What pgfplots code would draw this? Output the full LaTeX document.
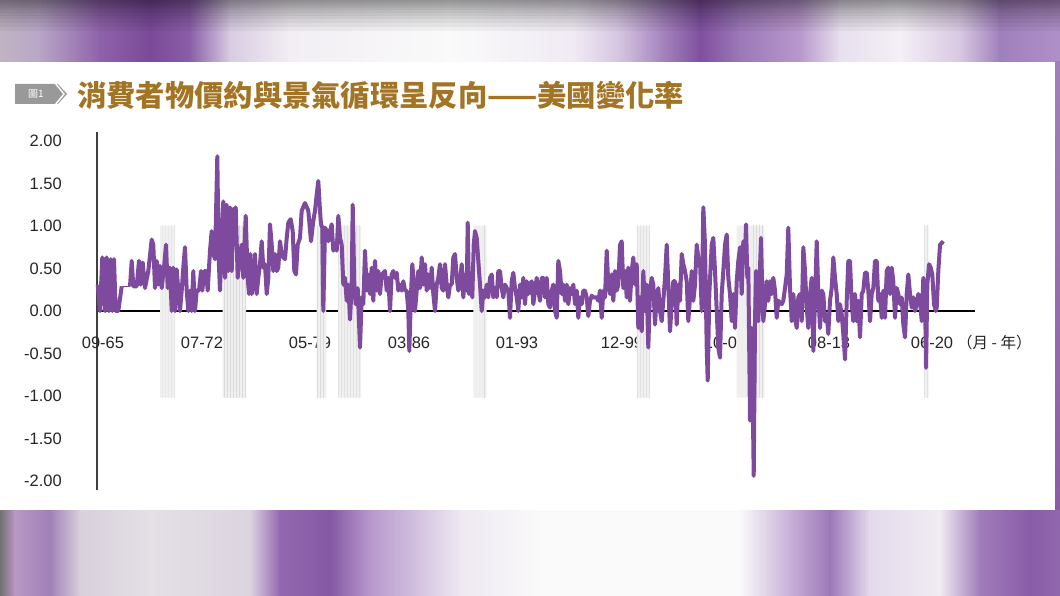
\documentclass[border=0pt]{standalone}
\usepackage{fontspec}
\setmainfont{Liberation Sans}
\newfontfamily\cjk{Noto Sans CJK TC}
\usepackage{pgfplots}
\pgfplotsset{compat=1.18}
\usetikzlibrary{patterns}
\definecolor{cpi}{HTML}{7D4A9E}
\definecolor{gold}{HTML}{A27424}
% top band colours
\definecolor{t0}{HTML}{C0B4C4}\definecolor{t1}{HTML}{B8A6C6}\definecolor{t2}{HTML}{8E62AA}
\definecolor{t3}{HTML}{7A4A98}\definecolor{t4}{HTML}{8A5EA8}\definecolor{t5}{HTML}{D8CCE2}
\definecolor{t6}{HTML}{F2EEF4}\definecolor{t7}{HTML}{FAFAFA}\definecolor{t8}{HTML}{F0EAF4}
\definecolor{t9}{HTML}{D4C4E0}\definecolor{t10}{HTML}{A888C0}\definecolor{t11}{HTML}{7E509E}
\definecolor{t12}{HTML}{9C78B8}\definecolor{t13}{HTML}{B898CC}\definecolor{t14}{HTML}{E8E0EE}
\definecolor{t15}{HTML}{F4F0F6}\definecolor{t16}{HTML}{D8C8E2}\definecolor{t17}{HTML}{A080BC}
\definecolor{t18}{HTML}{B090C8}
% bottom band colours
\definecolor{b0}{HTML}{707070}\definecolor{b1}{HTML}{B898C4}\definecolor{b2}{HTML}{A080B8}
\definecolor{b3}{HTML}{D8D0DC}\definecolor{b4}{HTML}{E4E0E6}\definecolor{b5}{HTML}{DCD4E0}
\definecolor{b6}{HTML}{9468B0}\definecolor{b7}{HTML}{8458A4}\definecolor{b8}{HTML}{B898CC}
\definecolor{b9}{HTML}{D4C4E0}\definecolor{b10}{HTML}{EEE8F2}\definecolor{b11}{HTML}{FAFAFA}
\definecolor{b12}{HTML}{FAFAFA}\definecolor{b13}{HTML}{C8B0D8}\definecolor{b14}{HTML}{9C78B8}
\definecolor{b15}{HTML}{E4DAEC}\definecolor{b16}{HTML}{F0ECF2}\definecolor{b17}{HTML}{A07CBA}
\definecolor{b18}{HTML}{8A5CA8}\definecolor{b19}{HTML}{9068AC}
\begin{document}
\begin{tikzpicture}[x=1bp,y=1bp]
\useasboundingbox (0,0) rectangle (1060,596);
% ---- blurred background, top band
\foreach \a/\b/\ca/\cb in {0/40/t0/t1,40/100/t1/t2,100/150/t2/t3,150/190/t3/t4,190/230/t4/t5,230/290/t5/t6,290/450/t6/t7,450/575/t7/t8,575/620/t8/t9,620/660/t9/t10,660/700/t10/t11,700/740/t11/t12,740/800/t12/t13,800/840/t13/t14,840/900/t14/t15,900/960/t15/t16,960/1000/t16/t17,1000/1060/t17/t18}
  {\shade[left color=\ca,right color=\cb] (\a-0.5,533) rectangle (\b+0.5,596);}
\foreach \h in {594,592,590,588,586,583,580,577,573,569,565}
  {\fill[black,opacity=0.045] (0,\h) rectangle (1060,596);}
% ---- bottom band
\foreach \a/\b/\ca/\cb in {0/15/b0/b1,15/50/b1/b2,50/80/b2/b3,80/150/b3/b4,150/250/b4/b5,250/280/b5/b6,280/330/b6/b7,330/370/b7/b8,370/420/b8/b9,420/460/b9/b10,460/540/b10/b11,540/740/b11/b12,740/790/b12/b13,790/830/b13/b14,830/870/b14/b15,870/940/b15/b16,940/980/b16/b17,980/1030/b17/b18,1030/1060/b18/b19}
  {\shade[left color=\ca,right color=\cb] (\a-0.5,0) rectangle (\b+0.5,87);}
% right strip
\shade[top color=t17,bottom color=b18] (1054,86) rectangle (1060,534);
% white panel
\fill[white] (0,86) rectangle (1055,534);
% ---- title
\fill[black!40] (15,512) -- (58,512) -- (67,502) -- (58,492) -- (15,492) -- cycle;
\draw[white,line width=1.4bp] (55,513) -- (64,502) -- (55,491);
\node[text=white,font=\cjk\fontsize{10bp}{11bp}\selectfont,inner sep=0] at (36,502) {圖1};
\node[anchor=west,text=gold,font=\cjk\bfseries\fontsize{29.3bp}{31bp}\selectfont,inner sep=0] at (77,501) {消費者物價約與景氣循環呈反向——美國變化率};
% ---- chart
\begin{axis}[
  at={(97bp,106bp)}, anchor=south west, scale only axis,
  width=878bp, height=358bp,
  xmin=97, xmax=975, ymin=-2.106, ymax=2.106,
  axis y line*=left, axis x line*=middle,
  y axis line style={draw=black!75,line width=1.6bp},
  x axis line style={draw=black,line width=1.3bp},
  major tick length=0pt,
  ytick={-2,-1.5,-1,-0.5,0,0.5,1,1.5,2},
  yticklabels={-2.00,-1.50,-1.00,-0.50,0.00,0.50,1.00,1.50,2.00},
  yticklabel style={anchor=east,inner sep=0pt,xshift=-35bp,text=black!85,font=\fontsize{16.5bp}{18bp}\selectfont},
  xtick={103,202,310,409,517,622,725,829,932},
  xticklabels={09-65,07-72,05-79,03-86,01-93,12-99,10-08,08-13,06-20},
  xticklabel style={anchor=center,inner sep=0pt,yshift=-32bp,text=black!85,font=\fontsize{16.5bp}{18bp}\selectfont},
  clip=false,
]
% recession bands
\pgfplotsforeachungrouped \xa/\xb in {160/175,222.5/246,316.5/326,338/361,473.3/486.7,636.7/650,736.7/764.3,924/928.5}{
  \edef\temp{\noexpand\addplot[fill=gray!12,draw=none,postaction={pattern=vertical lines,pattern color=gray!28}] coordinates {(\xa,-1.02)(\xa,1)(\xb,1)(\xb,-1.02)(\xa,-1.02)};}
  \temp
}
% CPI monthly change
\addplot[cpi,line width=4bp,line join=round] coordinates {
(97.7,0.31)(100,0)(102.3,0.63)(105,0)(106.7,0.63)(109,0)(110.7,0.61)(112.3,0)(114,0.61)(115.7,0)(118.3,0)(121.7,0.29)
};
\addplot[cpi,line width=1.3bp] coordinates {(121.7,0.29)(130,0.29)};
\addplot[cpi,line width=4bp,line join=round] coordinates {
(130,0.29)(131.7,0.59)(133.3,0.29)(136.7,0.29)(139,0.59)(140.7,0.31)(142.7,0.57)(145,0.27)(148.3,0.47)(151.7,0.84)(153.3,0.78)(155,0.27)(156.7,0.59)(158.3,0.31)(160,0.53)(161.7,0.27)(164,0.51)(166,0.78)(167.7,0.27)(170,0.51)(171.7,0)(173.3,0.51)(175,0)(176.7,0.49)(178.3,0.24)(180,0)(181.7,0.24)(183.3,0.51)(185,0.75)(186.7,0.24)(188.3,0)(190,0.24)(191.7,0)(193.3,0.47)(195,0)(196.7,0.24)(199,0.24)(201,0.47)(202.3,0.24)(204.3,0.47)(206,0.47)(207.7,0.24)(210,0.71)(211.7,0.94)(213.3,0.67)(215,0.61)(217.3,1.82)(218.7,0.61)(220,0.24)(221.7,0.9)(223.3,1.29)(225,0.39)(226.7,1.25)(228.3,0.47)(230,1.22)(231.7,0.47)(233.3,1.2)(234.3,0.78)(235.7,1.22)(237.7,0.39)(240,0.67)(241.7,0.78)(243.3,0.39)(245.7,1.12)(247.7,0.39)(249,0.2)(250.3,0.67)(251.7,0.2)(253.3,0.31)(255,0.67)(256.7,0.2)(258.3,0.39)(260,0.55)(261.7,0.82)(263.3,0.51)(265,0.55)(266.7,0.2)(268.3,0.39)(270,1.02)(271.7,0.78)(273.3,0.47)(275,0.67)(276.7,0.47)(278.3,0.51)(280,0.82)(281.7,0.67)(283.3,0.63)(285,0.61)(286.7,0.86)(288.3,1.04)(290.7,1.08)(292.7,0.94)(294.3,0.47)(296,0.43)(297.7,0.78)(300,0.86)(301.7,1.18)(305,1.27)
(308.3,1.18)(311,0.82)(313.3,1.06)(315,1.18)(316.7,1.37)(318.3,1.53)(320,1.18)(321,1.02)(322.3,0.98)(323.3,0)(325,0.98)(326.7,0.94)(328.3,0.82)(330,0.94)(331.7,1.02)(333.3,0.71)(335,0.78)(336.7,0.71)(338.3,1.12)(340,0.86)(341.7,0.78)(343.3,0.31)(345,0.39)(346.7,0.12)(348.3,0.31)(350,-0.1)(351.7,0.31)(352.7,1.25)(354.3,0.31)(355.7,0.08)(357.7,0.27)(360,-0.43)(361.7,0.16)(363.3,0.08)(365,0.71)(366.7,0.24)(368.3,0.43)(370,0.2)(371.7,0.51)(373.3,0.12)(375,0.59)(376.7,0.24)(378.3,0.47)(380,0.2)(381.7,0.43)(385,0.47)(386.7,0.24)(388.3,0.39)(390,0)(391.7,0.43)(393.3,0.47)(395,0.39)(396.7,0.45)(398.3,0.24)(400,0.31)(401.7,0.24)(403.3,0.35)(405,0.24)(406.7,0.24)(408.3,0)(409.3,-0.47)(411,0.2)(412.3,0.55)(414,0.31)(415,0)(416.7,0.24)(418.3,0.47)(420,0.27)(421.7,0.63)(423.3,0.31)(425,0.55)(426.7,0.24)(428.3,0.43)(430,0.27)(431.7,0.51)(433.3,0.2)(435,0)(436.7,0.31)(438.3,0.39)(440,0.55)(441.7,0.27)(443.3,0.24)(445,0.55)(446.7,0.31)(448.3,0.16)(450,0.31)(451.7,0.31)(453.3,0.63)(455,0.67)(456.7,0.39)(458.3,0.24)(460,0.35)(461.7,0.55)(463.3,0.16)(465,0.43)(466.7,0.24)(467.7,1.04)(469,0.2)(470.7,0.39)(472.3,0.16)(473.7,0.78)(475,0.94)(476.7,0.86)(478.3,0.59)(480,0.31)(481.7,0)(483.3,0.24)(485,0.16)(486.7,0.31)(488.3,0.16)(490,0.39)(491.7,0.43)(493.3,0.16)(495,0.27)(496.7,0.16)(498.3,0.47)(500,0.47)(501.7,0.27)(503.3,0.16)(505,0.31)(506.7,0.27)(508.3,0.24)(510,-0.08)(511.7,0.35)(513.3,0.45)(515,0.27)(516.7,0.16)(518.3,0)
(520,0.31)(521.7,0.16)(523.3,0.39)(525,0.08)(526.7,0.35)(528.3,0.2)(530,0.31)(531.7,0.35)(533.3,0.08)(535,0.24)(536.7,0.39)(538.3,0.24)(540,0.12)(541.7,0.39)(543.3,0.39)(545,0.16)(546.7,0.39)(548.3,0.08)(550,0.04)(551.7,0.24)(553.3,0.31)(555,0)(556.7,-0.08)(558.3,0.59)(560,0.47)(561.7,0.2)(563.3,0.31)(565,0.12)(566.7,0.31)(568.3,0.08)(570,0.27)(571.7,0.2)(573.3,0.31)(575,0.08)(576.7,0.24)(578.3,-0.08)(580,0.16)(581.7,0.08)(583.3,0.24)(585,0.24)(586.7,0.16)(588.3,-0.06)(590,0.12)(591.7,0.18)(593.3,0.16)(595,0.16)(596.7,0.16)(598.3,0.12)(600,0.24)(601.7,-0.08)(603.3,0.24)(605,0.16)(606.7,0.71)(608.3,0.31)(610,0.2)(611.7,0.43)(613.3,0.12)(615,0.47)(616.7,0.24)(618.3,0.31)(620,0.78)(621.7,0.82)(623.3,0.27)(625,0.47)(626.7,0.16)(628.3,0.51)(630,0.12)(631.7,0.47)(633.3,0.63)(635,0.31)(636.7,0.55)(638.3,-0.2)(640,0.16)(641.7,-0.24)(643.3,0.47)(645,0)(646.7,0.31)(648.3,-0.43)(650,0.24)(651.7,0.39)(653.3,0.31)(655,-0.16)(656.7,0.16)(658.3,0.27)(660,0)(661.7,-0.12)(663.3,0.12)(665,0.39)(666.7,0.78)(668.3,0.31)(670,-0.24)(671.7,0.08)(673.3,0.35)(675,0.35)(676.7,-0.16)(678.3,0.31)(680,0.12)(681.7,0.67)(683.3,0.55)(685,0.47)(686.7,0.35)(688.3,-0.12)(690,0.16)(691.7,0.47)(693.3,0.12)(695,0.31)(696.7,0.78)(698.3,0.63)(700,0.59)(701.7,0)(703.3,1.22)(705,0.78)(706.7,-0.43)(707.7,-0.82)(709.3,0.2)(711.7,0.78)(713.3,0.86)(715,0.47)(716.7,0)(718.3,-0.43)(720,-0.55)(721.7,0.2)(723.3,0.47)(725,0.78)(726.7,0.9)(728.3,0.39)(730,0.2)
(731.7,-0.12)(733.3,0.2)(735,-0.2)(736.7,0.35)(738.3,0.59)(740,0.75)(741.7,0.2)(743.3,0.82)(745,0.63)(746,1.02)(747.3,0.39)(748.3,0.51)(750,-1.29)(751.7,-0.2)(752.7,-1.02)(753.7,-1.94)(755,-0.12)(756,0.47)(757.3,0.39)(758.3,-0.12)(760,0.51)(761,0.86)(762.3,0.2)(763.3,-0.12)(765,0.08)(766.7,0.35)(768.3,0.12)(770,0.35)(771.7,0.2)(773.3,0.39)(775,0.24)(776.7,-0.08)(778.3,0.12)(781.7,0.08)(783.3,0.12)(785,0.27)(786.7,0.43)(788.3,0.98)(790,0.27)(791.7,-0.12)(793.3,0.2)(795,-0.08)(796.7,-0.2)(798.3,0.16)(800,0.2)(801.7,-0.12)(803.3,0.75)(805,0.47)(806.7,0.04)(808.3,-0.2)(810,0.2)(811.7,0.39)(813.3,-0.47)(815,0.12)(816.7,0.82)(818.3,0.2)(820,-0.2)(821.7,0.24)(823.3,0.2)(825,-0.12)(826.7,-0.04)(828.3,-0.27)(830,0.12)(831.7,0.27)(833.3,0.63)(835,0.39)(836.7,0.2)(838.3,-0.12)(840,0.08)(841.7,-0.04)(843.3,-0.27)(845,-0.57)(846.7,0.12)(848.3,0.59)(850,0.59)(851.7,0.08)(853.3,-0.12)(855,0.2)(856.7,-0.12)(858.3,0.12)(860,-0.31)(861.7,0.2)(863.3,0.24)(865,0.45)(866.7,0.45)(868.3,0.24)(870,-0.12)(871.7,0.2)(873.3,0.27)(875,0.59)(876.7,0.59)(878.3,0.12)(880,0.2)(881.7,-0.08)(883.3,0.24)(885,-0.08)(886.7,0.47)(888.3,0.51)(890,0.2)(891.7,0.51)(893.3,0.35)(895,-0.08)(896.7,0.27)(898.3,0.2)(900,0.08)(901.7,0.16)(903.3,-0.16)(905,-0.31)(906.7,0.2)(908.3,0.43)(910,0.2)(911.7,0.04)(913.3,0.16)(915,0)(916.7,0.08)(918.3,0.2)(920,0.12)(921.7,-0.12)(923.3,0.39)(925,0.2)(926,-0.67)(927.3,0.31)(929,0.55)(930.7,0.51)(932.3,0.43)(934,0.08)(935.7,0)(936.7,0.04)(938.3,0.47)(940,0.78)(941.7,0.8)(943.3,0.82)
};
\end{axis}
\node[anchor=west,inner sep=0pt,text=black!85,font=\cjk\fontsize{15.5bp}{17bp}\selectfont] at (957,253) {（月 - 年）};
\end{tikzpicture}
\end{document}
